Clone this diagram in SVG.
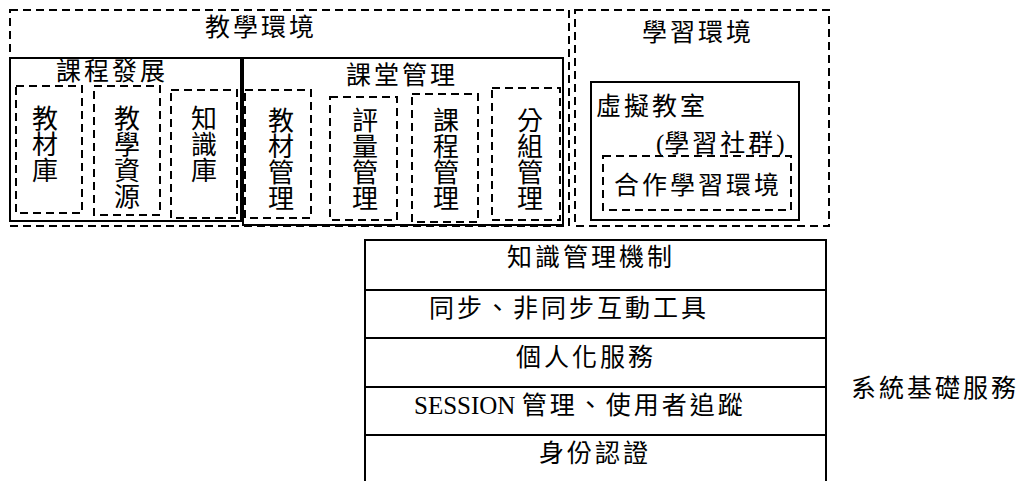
<svg xmlns="http://www.w3.org/2000/svg" width="1020" height="481" viewBox="0 0 1020 481">
<style>
.d{fill:none;stroke:#000;stroke-width:2;stroke-dasharray:8 5}
.s{fill:none;stroke:#000;stroke-width:2}
.t{font-family:"Noto Sans CJK TC","Noto Sans CJK SC",sans-serif;font-size:25px;letter-spacing:3px;fill:#000}
.v{font-family:"Noto Sans CJK TC","Noto Sans CJK SC",sans-serif;font-size:26px;text-anchor:middle;fill:#000}
.r{font-family:"Liberation Serif",serif;letter-spacing:0}
.p{font-family:"Liberation Serif",serif;letter-spacing:0}
</style>
<rect width="1020" height="481" fill="#fff"/>
<g id="teaching-env">
<rect class="d" x="10" y="10" width="559" height="216"/>
<text class="t" x="205" y="36">教學環境</text>
</g>
<g id="course-dev">
<rect class="s" x="10" y="58" width="231" height="163"/>
<text class="t" x="56" y="80">課程發展</text>
</g>
<g id="material-lib">
<rect class="d" x="16" y="86" width="66" height="127"/>
<text class="v"><tspan x="45" y="128">教</tspan><tspan x="45" y="154">材</tspan><tspan x="45" y="180">庫</tspan></text>
</g>
<g id="teaching-res">
<rect class="d" x="94" y="86" width="66" height="129"/>
<text class="v"><tspan x="127" y="128">教</tspan><tspan x="127" y="154">學</tspan><tspan x="127" y="180">資</tspan><tspan x="127" y="206">源</tspan></text>
</g>
<g id="knowledge-lib">
<rect class="d" x="171" y="90" width="66" height="128"/>
<text class="v"><tspan x="204" y="128">知</tspan><tspan x="204" y="154">識</tspan><tspan x="204" y="180">庫</tspan></text>
</g>
<g id="class-mgmt">
<rect class="s" x="243" y="58" width="320" height="167"/>
<text class="t" x="346" y="84">課堂管理</text>
</g>
<g id="material-mgmt">
<rect class="d" x="245" y="90" width="66" height="128"/>
<text class="v"><tspan x="281" y="130">教</tspan><tspan x="281" y="156">材</tspan><tspan x="281" y="182">管</tspan><tspan x="281" y="208">理</tspan></text>
</g>
<g id="assess-mgmt">
<rect class="d" x="330" y="97" width="67" height="123"/>
<text class="v"><tspan x="365" y="130">評</tspan><tspan x="365" y="156">量</tspan><tspan x="365" y="182">管</tspan><tspan x="365" y="208">理</tspan></text>
</g>
<g id="course-mgmt">
<rect class="d" x="412" y="94" width="66" height="128"/>
<text class="v"><tspan x="446" y="130">課</tspan><tspan x="446" y="156">程</tspan><tspan x="446" y="182">管</tspan><tspan x="446" y="208">理</tspan></text>
</g>
<g id="group-mgmt">
<rect class="d" x="492" y="88" width="68" height="132"/>
<text class="v"><tspan x="530" y="130">分</tspan><tspan x="530" y="156">組</tspan><tspan x="530" y="182">管</tspan><tspan x="530" y="208">理</tspan></text>
</g>
<g id="learning-env">
<rect class="d" x="575" y="10" width="254" height="216"/>
<text class="t" x="642" y="41">學習環境</text>
</g>
<g id="virtual-class">
<rect class="s" x="591" y="82" width="208" height="138"/>
<text class="t" x="596" y="115">虛擬教室</text>
<text class="t" x="656" y="152"><tspan class="p">(</tspan>學習社群<tspan class="p">)</tspan></text>
</g>
<g id="coop-env">
<rect class="d" x="603" y="156" width="188" height="54"/>
<text class="t" x="614" y="194">合作學習環境</text>
</g>
<g id="system-stack">
<rect class="s" x="365" y="240" width="461" height="250"/>
<line class="s" x1="365" y1="290" x2="826" y2="290"/>
<line class="s" x1="365" y1="338" x2="826" y2="338"/>
<line class="s" x1="365" y1="387" x2="826" y2="387"/>
<line class="s" x1="365" y1="435" x2="826" y2="435"/>
<text class="t" x="507" y="266">知識管理機制</text>
<text class="t" x="429" y="317">同步、非同步互動工具</text>
<text class="t" x="516" y="366">個人化服務</text>
<text class="t" x="414" y="414"><tspan class="r">SESSION </tspan>管理、使用者追蹤</text>
<text class="t" x="539" y="462">身份認證</text>
</g>
<g id="system-label">
<text class="t" x="851" y="397">系統基礎服務</text>
</g>
</svg>
